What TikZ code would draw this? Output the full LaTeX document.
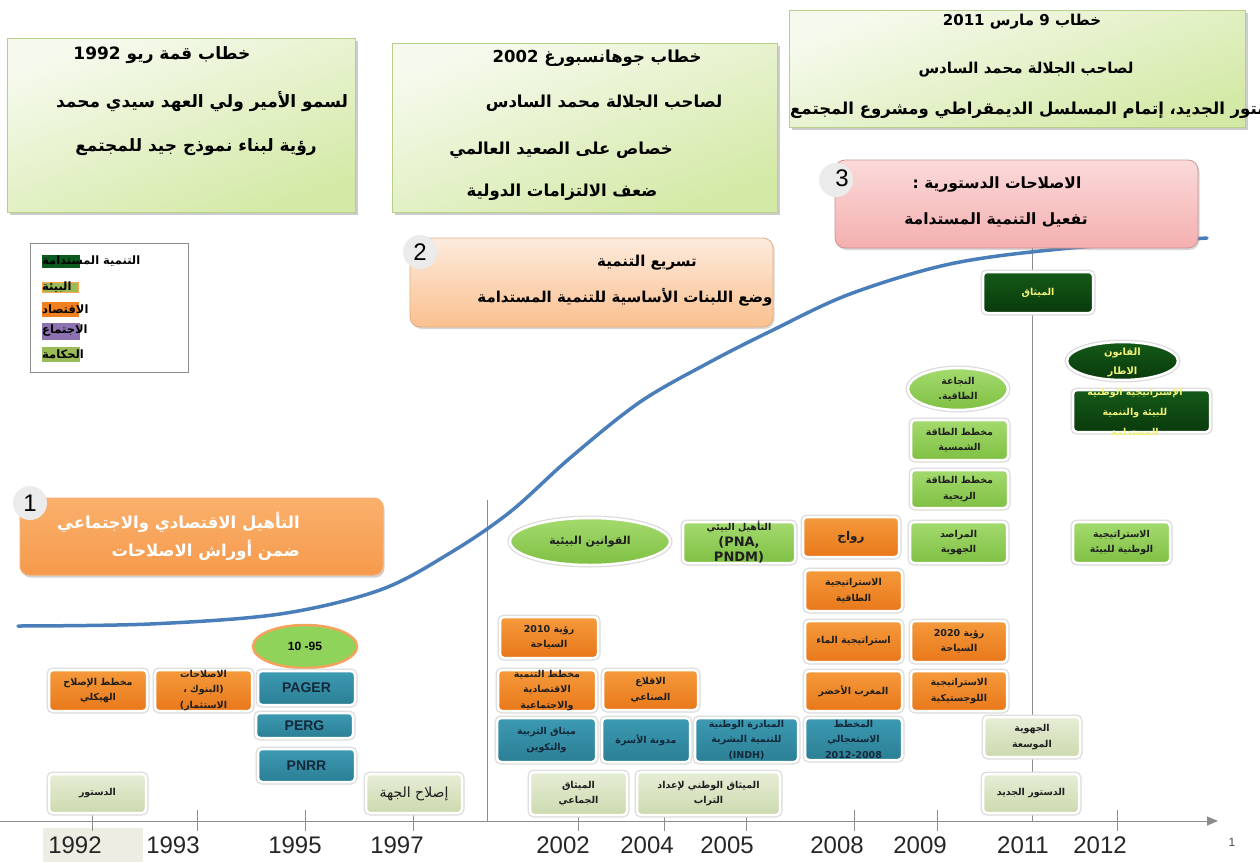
\documentclass[tikz,border=0pt]{standalone}
\usepackage{fontspec}
\setmainfont{Liberation Sans}
\newfontfamily\arabicfont[Script=Arabic]{DejaVu Sans}
\TeXXeTstate=1
\usetikzlibrary{shadows,arrows.meta,shapes.geometric}
\newcommand\AR[1]{\beginR#1\endR}
\newcommand\LT[1]{\beginL#1\endL{}}
\definecolor{curveblue}{HTML}{4A7EBB}
\definecolor{orgT}{HTML}{F59A3C}
\definecolor{orgB}{HTML}{E8781A}
\definecolor{tealT}{HTML}{3C9AB2}
\definecolor{tealB}{HTML}{2B7F95}
\definecolor{lgT}{HTML}{A4DA6E}
\definecolor{lgB}{HTML}{7FC043}
\definecolor{paleT}{HTML}{E6EDD6}
\definecolor{paleB}{HTML}{CCDAAE}
\definecolor{dgT}{HTML}{145A18}
\definecolor{dgB}{HTML}{0A3A0C}
\definecolor{topL}{HTML}{F6FAEE}
\definecolor{topR}{HTML}{D4E9A6}
\definecolor{topD}{HTML}{B8CF8C}
\definecolor{bAT}{HTML}{FAB06C}
\definecolor{bAB}{HTML}{F69A4C}
\definecolor{bBT}{HTML}{FDEBDD}
\definecolor{bBB}{HTML}{FAC08F}
\definecolor{bCT}{HTML}{FBDADA}
\definecolor{bCB}{HTML}{F4AFAF}
\definecolor{axisgray}{HTML}{8C8C8C}
\definecolor{yel}{HTML}{F0F27A}
\definecolor{navy}{HTML}{14283A}
\definecolor{circgray}{HTML}{EBEBEB}
\definecolor{beige}{HTML}{EDEDE3}
\definecolor{lgdDG}{HTML}{0B5A1E}
\definecolor{lgdOl}{HTML}{9BBB59}
\definecolor{lgdOr}{HTML}{F07F1E}
\definecolor{lgdPu}{HTML}{8C72B0}
\definecolor{e95}{HTML}{8FD35A}
\definecolor{e95b}{HTML}{F5A25C}
\newcommand\tb[8]{%
  \node[#2, minimum width=#5pt, minimum height=#6pt] (#1) at (#3,#4) {};
  \node[btxt, #7] (#1-t) at (#1.center) {#8};}
\begin{document}
\begin{tikzpicture}[x=1pt,y=-1pt,
  halo/.style={draw=white, line width=2.5pt, preaction={draw=black!14, line width=5pt}},
  sbox/.style={rectangle, rounded corners=4pt, halo, inner sep=0pt},
  org/.style={sbox, top color=orgT, bottom color=orgB},
  tea/.style={sbox, top color=tealT, bottom color=tealB},
  lgr/.style={sbox, top color=lgT, bottom color=lgB},
  pal/.style={sbox, top color=paleT, bottom color=paleB},
  dgr/.style={sbox, top color=dgT, bottom color=dgB},
  ell/.style={ellipse, halo, inner sep=0pt},
  btxt/.style={align=center, inner sep=0pt, text=black!88, font=\arabicfont\bfseries\fontsize{9.5}{15.5}\selectfont},
  ttxt/.style={text=navy, font=\bfseries\fontsize{14}{15}\selectfont},
  topbox/.style={rectangle, draw=topD, line width=1pt, top color=topL, bottom color=topR, shading angle=20,
     drop shadow={opacity=0.4, shadow xshift=2.5pt, shadow yshift=-2.5pt}},
  toptxt/.style={inner sep=0pt, text=black, font=\arabicfont\bfseries\fontsize{16.5}{18}\selectfont},
  toptxtA/.style={toptxt, font=\arabicfont\bfseries\fontsize{17}{18}\selectfont},
  toptxtC/.style={toptxt, font=\arabicfont\bfseries\fontsize{15}{18}\selectfont},
  bigtxt/.style={inner sep=0pt, font=\arabicfont\bfseries\fontsize{15.5}{18}\selectfont},
  numcirc/.style={circle, fill=circgray, minimum size=34pt, inner sep=0pt},
  numtxt/.style={inner sep=0pt, font=\fontsize{24}{24}\selectfont},
  yeartxt/.style={inner sep=0pt, text=black!85, font=\fontsize{24}{24}\selectfont},
  lgtxt/.style={inner sep=0pt, anchor=west, font=\arabicfont\bfseries\fontsize{11.5}{12}\selectfont}
]
\useasboundingbox (0,0) rectangle (1260,862);
\fill[white] (0,0) rectangle (1260,862);

% ---------- top speech boxes ----------
\node[topbox, minimum width=348pt, minimum height=174pt] (tA) at (181,125) {};
\node[toptxtA] (tA1) at (162,55) {\AR{خطاب قمة ريو \LT{1992}}};
\node[toptxtA] (tA2) at (202,102) {\AR{لسمو الأمير ولي العهد سيدي محمد}};
\node[toptxtA] (tA3) at (196,147) {\AR{رؤية لبناء نموذج جيد للمجتمع}};

\node[topbox, minimum width=385pt, minimum height=169pt] (tB) at (584.5,127.5) {};
\node[toptxt] (tB1) at (597,58) {\AR{خطاب جوهانسبورغ \LT{2002}}};
\node[toptxt] (tB2) at (604,103) {\AR{لصاحب الجلالة محمد السادس}};
\node[toptxt] (tB3) at (561,150) {\AR{خصاص على الصعيد العالمي}};
\node[toptxt] (tB4) at (562,192) {\AR{ضعف الالتزامات الدولية}};

\node[topbox, minimum width=456pt, minimum height=117pt] (tC) at (1017,68.5) {};
\node[toptxtC] (tC1) at (1022,22) {\AR{خطاب \LT{9} مارس \LT{2011}}};
\node[toptxtC] (tC2) at (1026,70) {\AR{لصاحب الجلالة محمد السادس}};
\begin{scope}
\clip (0,0) rectangle (1260,130);
\node[toptxt, anchor=west] (tC3) at (790,110) {\AR{الدستور الجديد، إتمام المسلسل الديمقراطي ومشروع المجتمع}};
\end{scope}

% ---------- legend ----------
\node[draw=black!45, fill=white, minimum width=158pt, minimum height=129pt, inner sep=0pt] (leg) at (109,307.5) {};
\fill[lgdDG] (42,255) rectangle (80,268);
\fill[lgdOl, draw=orange!70, line width=0.6pt] (42,282) rectangle (78,292);
\fill[lgdOr] (42,302) rectangle (79,317);
\fill[lgdPu] (42,323) rectangle (80,340);
\fill[lgdOl] (42,347) rectangle (80,362);
\node[lgtxt] (lg1) at (42,261) {\AR{التنمية المستدامة}};
\node[lgtxt] (lg2) at (42,287) {\AR{البيئة}};
\node[lgtxt] (lg3) at (42,309) {\AR{الاقتصاد}};
\node[lgtxt] (lg4) at (42,331) {\AR{الاجتماع}};
\node[lgtxt] (lg5) at (42,354) {\AR{الحكامة}};

% ---------- guide lines & axis ----------
\draw[axisgray, line width=0.8pt] (487,500) -- (487,822);
\draw[axisgray, line width=0.8pt] (1032,247) -- (1032,822);
\fill[beige] (43,828) rectangle (143,862);
\coordinate (ax0) at (0,821);
\coordinate (ax1) at (1218,821);
\draw[axisgray, line width=1pt, -{Triangle[length=11pt,width=9pt]}] (ax0) -- (ax1);
\foreach \x in {92,197,305,413,578,664,746,854,937,1117}
  \draw[axisgray, line width=0.8pt] (\x,810) -- (\x,831);
\node[yeartxt] (y1992) at (75,845) {1992};
\node[yeartxt] (y1993) at (173,845) {1993};
\node[yeartxt] (y1995) at (295,845) {1995};
\node[yeartxt] (y1997) at (397,845) {1997};
\node[yeartxt] (y2002) at (563,845) {2002};
\node[yeartxt] (y2004) at (647,845) {2004};
\node[yeartxt] (y2005) at (727,845) {2005};
\node[yeartxt] (y2008) at (837,845) {2008};
\node[yeartxt] (y2009) at (920,845) {2009};
\node[yeartxt] (y2011) at (1023,845) {2011};
\node[yeartxt] (y2012) at (1100,845) {2012};
\node[inner sep=0pt, font=\fontsize{12}{12}\selectfont, text=black!70] (pg) at (1232,842) {1};

% ---------- blue curve ----------
\draw[curveblue, line width=3.5pt, line cap=round] plot[smooth, tension=0.55] coordinates
  {(18,626) (150,624) (280,614) (380,590) (450,553) (510,512) (570,458) (640,402) (710,362) (773,330) (850,294) (950,264) (1060,249) (1207,238)};

% ---------- phase boxes ----------
\node[rectangle, rounded corners=9pt, draw=bAB!80!white, line width=1pt, top color=bAT, bottom color=bAB,
  drop shadow={opacity=0.35, shadow xshift=1.5pt, shadow yshift=-2.5pt},
  minimum width=363pt, minimum height=77pt] (p1) at (201.5,536.5) {};
\node[bigtxt, text=white, anchor=east, font=\arabicfont\bfseries\fontsize{16.5}{18}\selectfont] (p1a) at (300,522) {\AR{التأهيل الاقتصادي والاجتماعي}};
\node[bigtxt, text=white, anchor=east, font=\arabicfont\bfseries\fontsize{16.5}{18}\selectfont] (p1b) at (300,550) {\AR{ضمن أوراش الاصلاحات}};
\node[numcirc] (c1) at (30,503) {};
\node[numtxt] (n1) at (c1) {1};

\node[rectangle, rounded corners=10pt, draw=bBB!90!black, line width=0.8pt, top color=bBT, bottom color=bBB,
  drop shadow={opacity=0.3, shadow xshift=1.5pt, shadow yshift=-2pt},
  minimum width=363pt, minimum height=89pt] (p2) at (591.5,282.5) {};
\node[bigtxt, font=\arabicfont\bfseries\fontsize{15}{18}\selectfont] (p2a) at (647,263) {\AR{تسريع التنمية}};
\node[bigtxt, font=\arabicfont\bfseries\fontsize{15}{18}\selectfont] (p2b) at (625,297) {\AR{وضع اللبنات الأساسية للتنمية المستدامة}};
\node[numcirc] (c2) at (420,252) {};
\node[numtxt] (n2) at (c2) {2};

\node[rectangle, rounded corners=10pt, draw=bCB!85!black, line width=0.8pt, top color=bCT, bottom color=bCB,
  drop shadow={opacity=0.3, shadow xshift=1.5pt, shadow yshift=-2pt},
  minimum width=363pt, minimum height=88pt] (p3) at (1016.5,204) {};
\node[bigtxt] (p3a) at (997,185) {\AR{الاصلاحات الدستورية :}};
\node[bigtxt] (p3b) at (996,220) {\AR{تفعيل التنمية المستدامة}};
\node[numcirc] (c3) at (836,180) {};
\node[numtxt] (n3) at (842,178) {3};

% ---------- 1992-1997 ----------
\tb{s1}{org}{98}{690.5}{98}{41}{}{\AR{مخطط الإصلاح}\\\AR{الهيكلي}}
\tb{s2}{org}{203.5}{690.5}{97}{41}{}{\AR{الاصلاحات}\\\AR{(البنوك ،}\\\AR{الاستثمار)}}
\node[ellipse, draw=e95b, line width=2.5pt, fill=e95, minimum width=104pt, minimum height=43pt, inner sep=0pt] (e95n) at (305,646.5) {};
\node[inner sep=0pt, font=\bfseries\fontsize{12}{12}\selectfont] (e95t) at (e95n) {10 -95};
\tb{s3}{tea}{306.5}{688}{97}{34}{ttxt}{PAGER}
\tb{s4}{tea}{304.5}{725.5}{97}{25}{ttxt}{PERG}
\tb{s5}{tea}{306.5}{765.5}{97}{33}{ttxt}{PNRR}
\tb{s6}{pal}{97.5}{793.5}{97}{39}{}{\AR{الدستور}}
\tb{s7}{pal}{414}{793.5}{96}{39}{font=\arabicfont\fontsize{14}{16}\selectfont}{\AR{إصلاح الجهة}}

% ---------- 2002-2005 ----------
\node[ell, top color=lgT, bottom color=lgB, minimum width=160pt, minimum height=47pt] (m1) at (590,541.5) {};
\node[btxt, font=\arabicfont\bfseries\fontsize{11}{14}\selectfont] (m1-t) at (m1) {\AR{القوانين البيئية}};
\tb{m2}{lgr}{739}{542.5}{112}{41}{}{\AR{التأهيل البيئي}\\{\fontsize{13}{15.5}\selectfont (PNA,}\\{\fontsize{13}{15.5}\selectfont PNDM)}}
\tb{m3}{org}{549}{637.5}{98}{41}{}{\AR{رؤية \LT{2010}}\\\AR{السياحة}}
\tb{m4}{org}{547}{690.5}{98}{41}{}{\AR{مخطط التنمية}\\\AR{الاقتصادية}\\\AR{والاجتماعية}}
\tb{m5}{org}{650.5}{690}{95}{40}{}{\AR{الاقلاع}\\\AR{الصناعي}}
\tb{m6}{tea}{546.5}{740}{99}{44}{text=navy}{\AR{ميثاق التربية}\\\AR{والتكوين}}
\tb{m7}{tea}{646}{740}{88}{44}{text=navy}{\AR{مدونة الأسرة}}
\tb{m8}{tea}{746.5}{740}{103}{44}{text=navy}{\AR{المبادرة الوطنية}\\\AR{للتنمية البشرية}\\(INDH)}
\tb{m9}{pal}{578.5}{793.5}{97}{43}{}{\AR{الميثاق}\\\AR{الجماعي}}
\tb{m10}{pal}{708.5}{793.5}{143}{43}{}{\AR{الميثاق الوطني لإعداد}\\\AR{التراب}}

% ---------- 2008 ----------
\tb{r1}{org}{851}{537}{96}{40}{font=\arabicfont\bfseries\fontsize{12}{14}\selectfont}{\AR{رواج}}
\tb{r2}{org}{853.5}{590.5}{97}{41}{}{\AR{الاستراتيجية}\\\AR{الطاقية}}
\tb{r3}{org}{853.5}{641.5}{97}{41}{}{\AR{استراتيجية الماء}}
\tb{r4}{org}{853.5}{691}{97}{40}{}{\AR{المغرب الأخضر}}
\tb{r5}{tea}{853.5}{739}{97}{42}{text=navy}{\AR{المخطط}\\\AR{الاستعجالي}\\\LT{2012-2008}}

% ---------- 2009 ----------
\node[ell, top color=lgT, bottom color=lgB, minimum width=100pt, minimum height=42pt] (g1) at (958,389) {};
\node[btxt] (g1-t) at (g1) {\AR{النجاعة}\\\AR{الطاقية.}};
\tb{g2}{lgr}{959.5}{440}{97}{40}{}{\AR{مخطط الطاقة}\\\AR{الشمسية}}
\tb{g3}{lgr}{959.5}{489}{97}{38}{}{\AR{مخطط الطاقة}\\\AR{الريحية}}
\tb{g4}{lgr}{958.5}{542.5}{97}{41}{}{\AR{المراصد}\\\AR{الجهوية}}
\tb{g5}{org}{959}{641.5}{96}{41}{}{\AR{رؤية \LT{2020}}\\\AR{السياحة}}
\tb{g6}{org}{959}{691}{96}{40}{}{\AR{الاستراتيجية}\\\AR{اللوجستيكية}}

% ---------- 2011 ----------
\tb{k1}{dgr}{1038}{292.5}{110}{41}{text=yel}{\AR{الميثاق}}
\tb{k2}{pal}{1032}{737}{96}{40}{}{\AR{الجهوية}\\\AR{الموسعة}}
\tb{k3}{pal}{1031}{793.5}{96}{39}{}{\AR{الدستور الجديد}}

% ---------- 2012 ----------
\node[ell, top color=dgT, bottom color=dgB, minimum width=111pt, minimum height=38pt] (q1) at (1122.5,361) {};
\tb{q2}{dgr}{1141.5}{411}{137}{42}{text=yel}{}
\node[btxt, text=yel, font=\arabicfont\bfseries\fontsize{10}{19}\selectfont] (q1-t) at (1122.5,362.5) {\AR{القانون}\\\AR{الاطار}};
\node[btxt, text=yel, font=\arabicfont\bfseries\fontsize{9.5}{20}\selectfont] (q2-tt) at (1135,412) {\AR{الإستراتيجية الوطنية}\\\AR{للبيئة والتنمية}\\\AR{المستدامة}};
\tb{q3}{lgr}{1121.5}{542.5}{97}{41}{}{\AR{الاستراتيجية}\\\AR{الوطنية للبيئة}}
\end{tikzpicture}
\end{document}
